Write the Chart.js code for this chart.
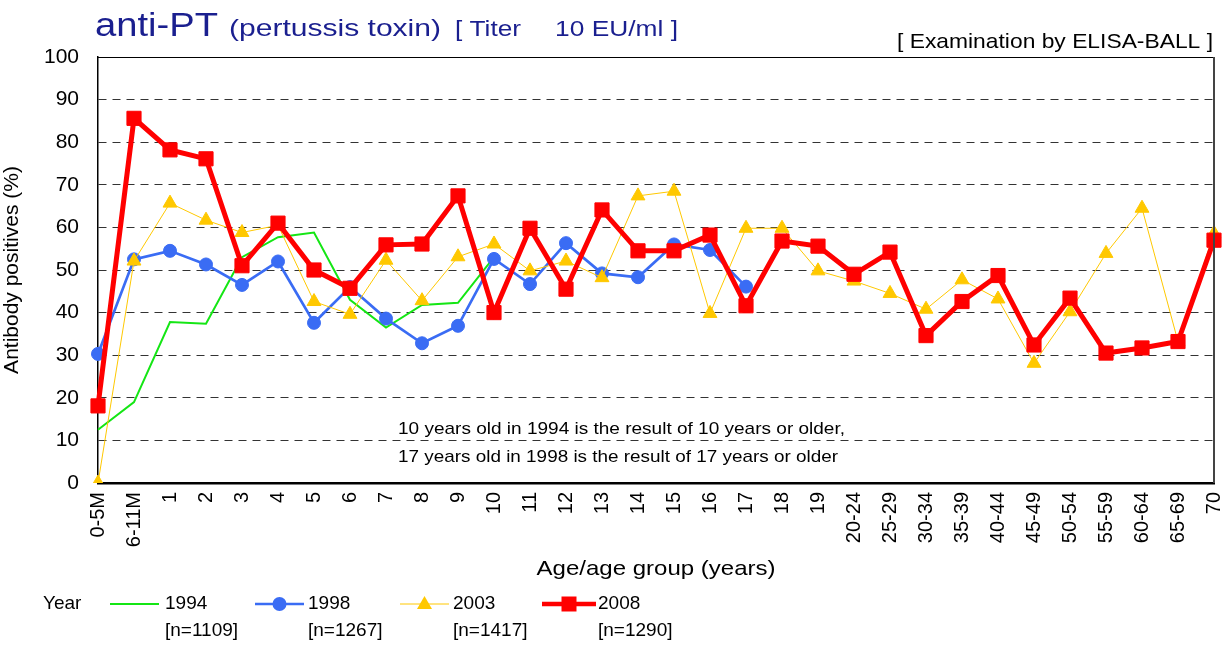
<!DOCTYPE html>
<html>
<head>
<meta charset="utf-8">
<script src="https://cdn.jsdelivr.net/npm/chart.js@4.4.0/dist/chart.umd.min.js"></script>
<style>
  html, body { margin: 0; padding: 0; background: #fff; }
</style>
</head>
<body>
<canvas id="chart" width="1230" height="645"></canvas>
<script>
// ----------------- Data -----------------
const ageLabels = ['0-5M', '6-11M', '1', '2', '3', '4', '5', '6', '7', '8', '9', '10',
    '11', '12', '13', '14', '15', '16', '17', '18', '19', '20-24', '25-29', '30-34',
    '35-39', '40-44', '45-49', '50-54', '55-59', '60-64', '65-69', '70'];

const yTicks = [0, 10, 20, 30, 40, 50, 60, 70, 80, 90, 100];

const pos1994 = [12.5, 19, 37.8, 37.4, 53, 57.7, 58.8, 43, 36.5, 41.8, 42.3, 53];

const pos1998 = [30.3, 52.5, 54.5, 51.3, 46.5, 52, 37.6, 46, 38.6, 32.8, 36.9, 52.6,
    46.7, 56.3, 49.2, 48.3, 56, 54.7, 46.1];

const pos2003 = [0, 52.1, 65.7, 61.7, 58.8, 60.5, 42.6, 39.6, 52.3, 42.8, 53.1, 56.1,
    49.8, 52.1, 48.2, 67.4, 68.5, 39.8, 59.8, 59.8, 49.8, 47.4, 44.5, 40.8,
    47.7, 43.2, 28.1, 40.2, 53.9, 64.5, 33.2, 58.6];

const pos2008 = [18.1, 85.6, 78.2, 76.1, 51, 61, 50, 45.7, 55.9, 56.1, 67.4, 40,
    59.8, 45.5, 64.1, 54.5, 54.5, 58.2, 41.6, 56.8, 55.6, 49, 54.2, 34.6,
    42.6, 48.7, 32.4, 43.4, 30.5, 31.7, 33.2, 57];

const seriesNames = ['1994', '1998', '2003', '2008'];
const seriesN = ['[n=1109]', '[n=1267]', '[n=1417]', '[n=1290]'];

const FONT = "'Liberation Sans', Arial, sans-serif";
const GREEN = '#14e614';
const BLUE = '#3a6cf4';
const YELLOW = '#ffc800';
const RED = '#ff0000';
const NAVY = '#1a1f8f';

// draw text squeezed/stretched to an exact width
function fitText(ctx, text, x, y, w, align) {
    const m = ctx.measureText(text).width;
    const k = w / m;
    ctx.save();
    ctx.textAlign = 'left';
    let x0 = x;
    if (align === 'center') x0 = x - w / 2;
    if (align === 'right') x0 = x - w;
    ctx.translate(x0, y);
    ctx.scale(k, 1);
    ctx.fillText(text, 0, 0);
    ctx.restore();
}

function marker(ctx, style, x, y, color) {
    ctx.fillStyle = color;
    ctx.beginPath();
    if (style === 'circle') {
        ctx.arc(x, y, 7, 0, Math.PI * 2);
    } else if (style === 'triangle') {
        ctx.moveTo(x, y - 8);
        ctx.lineTo(x + 7.5, y + 5);
        ctx.lineTo(x - 7.5, y + 5);
        ctx.closePath();
    } else if (style === 'rect') {
        ctx.rect(x - 7.5, y - 7.5, 15, 15);
    }
    ctx.fill();
}

// ----------------- Extra decorations -----------------
const decorations = {
    id: 'decorations',
    afterDraw(chart) {
        const ctx = chart.ctx;
        const a = chart.chartArea;
        ctx.save();

        // top and right frame
        ctx.strokeStyle = '#000';
        ctx.lineWidth = 1;
        ctx.beginPath();
        ctx.moveTo(a.left, a.top + 0.5);
        ctx.lineTo(a.right, a.top + 0.5);
        ctx.stroke();
        ctx.strokeStyle = '#444';
        ctx.lineWidth = 2;
        ctx.beginPath();
        ctx.moveTo(a.right, a.top);
        ctx.lineTo(a.right, a.bottom);
        ctx.stroke();

        // title
        ctx.textBaseline = 'alphabetic';
        ctx.fillStyle = NAVY;
        ctx.font = '33px ' + FONT;
        fitText(ctx, 'anti-PT', 95, 36, 123);
        ctx.font = '24px ' + FONT;
        fitText(ctx, '(pertussis toxin)', 229, 36, 212);
        ctx.font = '22px ' + FONT;
        fitText(ctx, '[ Titer', 455, 36, 66);
        fitText(ctx, '10 EU/ml ]', 555, 36, 123);

        ctx.fillStyle = '#000';
        ctx.font = '21px ' + FONT;
        fitText(ctx, '[ Examination by ELISA-BALL ]', 1213, 48, 316, 'right');

        // note inside plot
        ctx.font = '17px ' + FONT;
        ctx.textBaseline = 'middle';
        fitText(ctx, '10 years old in 1994 is the result of 10 years or older,', 398, 429, 447);
        fitText(ctx, '17 years old in 1998 is the result of 17 years or older', 398, 457, 440);

        // x axis title
        ctx.font = '21px ' + FONT;
        fitText(ctx, 'Age/age group (years)', 656, 569, 239, 'center');

        // legend
        ctx.font = '19px ' + FONT;
        ctx.fillText('Year', 43, 604);
        const legend = [
            { x0: 110, x1: 159, tx: 165, color: GREEN, w: 2, style: null },
            { x0: 255, x1: 304, tx: 308, color: BLUE, w: 2.5, style: 'circle' },
            { x0: 400, x1: 449, tx: 453, color: YELLOW, w: 1, style: 'triangle' },
            { x0: 542, x1: 596, tx: 598, color: RED, w: 4.5, style: 'rect' }
        ];
        legend.forEach((l, i) => {
            ctx.strokeStyle = l.color;
            ctx.lineWidth = l.w;
            ctx.beginPath();
            ctx.moveTo(l.x0, 604);
            ctx.lineTo(l.x1, 604);
            ctx.stroke();
            if (l.style) marker(ctx, l.style, (l.x0 + l.x1) / 2, 604, l.color);
            ctx.fillStyle = '#000';
            ctx.fillText(seriesNames[i], l.tx, 604);
            ctx.fillText(seriesN[i], l.tx, 631);
        });

        ctx.restore();
    }
};

// ----------------- Line Chart -----------------
const ctx = document.getElementById('chart').getContext('2d');
new Chart(ctx, {
    type: 'line',
    data: {
        labels: ageLabels,
        datasets: [{
            label: '1994',
            data: pos1994,
            borderColor: GREEN,
            borderWidth: 2,
            pointRadius: 0,
            order: 4
        }, {
            label: '1998',
            data: pos1998,
            borderColor: BLUE,
            backgroundColor: BLUE,
            borderWidth: 2.7,
            pointStyle: 'circle',
            pointRadius: 6.5,
            pointBorderWidth: 1,
            order: 3
        }, {
            label: '2003',
            data: pos2003,
            borderColor: YELLOW,
            backgroundColor: YELLOW,
            pointBorderColor: YELLOW,
            borderWidth: 1,
            pointStyle: 'triangle',
            pointRadius: 8,
            pointBorderWidth: 1,
            order: 2
        }, {
            label: '2008',
            data: pos2008,
            borderColor: RED,
            backgroundColor: RED,
            borderWidth: 5,
            pointStyle: 'rect',
            pointRadius: 10,
            pointBorderWidth: 1,
            order: 1
        }]
    },
    options: {
        responsive: false,
        animation: false,
        devicePixelRatio: 1,
        layout: { padding: { top: 57, right: 16, left: 0, bottom: 0 } },
        plugins: {
            legend: { display: false },
            tooltip: { enabled: false }
        },
        elements: { line: { tension: 0 } },
        scales: {
            x: {
                offset: false,
                grid: { display: false, drawTicks: false },
                border: { color: '#000', width: 2.5 },
                ticks: {
                    autoSkip: false,
                    minRotation: 90,
                    maxRotation: 90,
                    padding: 9,
                    color: '#000',
                    font: { family: FONT, size: 20 }
                },
                afterFit: scale => {
                    scale.height = 162;
                    scale.paddingLeft = 0;
                    scale.paddingRight = 0;
                }
            },
            y: {
                min: 0,
                max: 100,
                afterBuildTicks: scale => { scale.ticks = yTicks.map(v => ({ value: v })); },
                grid: {
                    drawTicks: false,
                    color: c => (c.tick.value === 0 || c.tick.value === 100) ? 'rgba(0,0,0,0)' : '#333',
                    lineWidth: 1
                },
                border: { color: '#000', width: 1.5, dash: [8, 6] },
                ticks: {
                    padding: 19,
                    color: '#000',
                    font: { family: FONT, size: 21 }
                },
                title: {
                    display: true,
                    text: 'Antibody positives (%)',
                    color: '#000',
                    font: { family: FONT, size: 21 },
                    padding: { top: 0, bottom: 0 }
                },
                afterFit: scale => { scale.width = 98; }
            }
        }
    },
    plugins: [decorations]
});
</script>
</body>
</html>
